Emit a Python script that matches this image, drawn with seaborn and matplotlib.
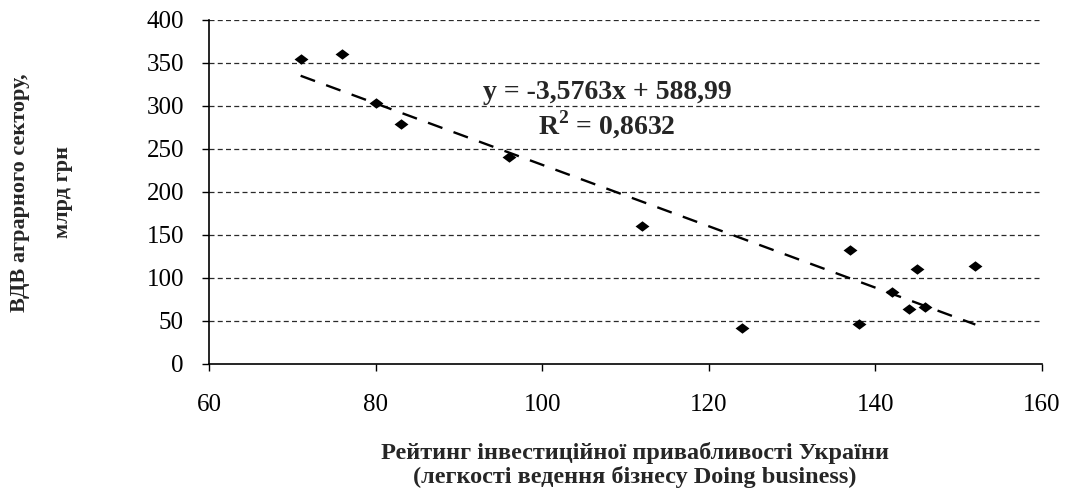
import numpy as np
import pandas as pd
import matplotlib
matplotlib.use("Agg")
import matplotlib.pyplot as plt
import seaborn as sns

# Doing Business rank of Ukraine vs. gross value added of the agrarian sector
rank = [71, 76, 80, 83, 96, 112, 124, 137, 138, 142, 144, 145, 146, 152]
gva = [355, 360, 303, 279, 240, 160, 41, 132, 46, 83, 64, 110, 66, 113]

# linear trend as reported on the chart
slope = -3.5763
intercept = 588.99
r_squared = 0.8632

x_ticks = [60, 80, 100, 120, 140, 160]
y_ticks = [0, 50, 100, 150, 200, 250, 300, 350, 400]

x_label = "Рейтинг інвестиційної привабливості України\n(легкості ведення бізнесу Doing business)"
y_label_1 = "ВДВ аграрного сектору,"
y_label_2 = "млрд грн"

df = pd.DataFrame({"rank": rank, "gva": gva})
trend_x = [min(rank), max(rank)]
trend = pd.DataFrame({"rank": trend_x,
                      "gva": [slope * v + intercept for v in trend_x]})

sns.set_theme(style="white")
plt.rcParams["font.family"] = ["Liberation Serif", "DejaVu Serif"]
plt.rcParams["mathtext.fontset"] = "custom"
plt.rcParams["mathtext.rm"] = "Liberation Serif"
plt.rcParams["mathtext.bf"] = "Liberation Serif:bold"

fig = plt.figure(figsize=(10.68, 4.88), dpi=100)
ax = fig.add_axes([209 / 1068, 1 - 363.5 / 488, 833 / 1068, 343.5 / 488])

# horizontal dashed gridlines
for v in y_ticks[1:]:
    ax.axhline(v, color="#2a2a2a", lw=0.9, dashes=(4.0, 2.6), zorder=0)

diamond = [(-1, 0), (0, 0.75), (1, 0), (0, -0.75), (-1, 0)]
sns.scatterplot(data=df, x="rank", y="gva", marker=diamond, s=100,
                color="black", edgecolor="black", linewidth=0, ax=ax, zorder=3)
sns.lineplot(data=trend, x="rank", y="gva", color="black", lw=1.7,
             dashes=False, ax=ax, zorder=2)
ax.lines[-1].set_dashes((6.5, 5.0))

ax.set_xlim(60, 160)
ax.set_ylim(0, 400)
ax.set_xticks(x_ticks)
ax.set_yticks(y_ticks)
ax.tick_params(axis="both", direction="out", length=5, width=1.0,
               color="black", labelsize=18, labelcolor="black")
ax.tick_params(axis="y", pad=13)
ax.tick_params(axis="x", pad=17)
ax.tick_params(left=True, bottom=True)

for side in ("top", "right"):
    ax.spines[side].set_visible(False)
for side in ("left", "bottom"):
    ax.spines[side].set_color("black")
    ax.spines[side].set_linewidth(1.2)

ax.grid(False)

eq_text = f"y = {slope:.4f}x + {intercept:.2f}".replace(".", ",")
r2_text = r"R$^{\mathbf{2}}$" + f" = {r_squared:.4f}".replace(".", ",")
ax.text(107.8, 316, eq_text, ha="center", va="center",
        fontsize=20, fontweight="bold")
ax.text(107.8, 277.5, r2_text, ha="center", va="center",
        fontsize=20, fontweight="bold")

ax.set_xlabel(x_label, fontsize=17.5, fontweight="bold", linespacing=1.12)
ax.xaxis.set_label_coords(0.511, -0.228)
ax.set_ylabel("")

fig.text(20 / 1068, 0.606, y_label_1, rotation=90, ha="center", va="center",
         fontsize=16, fontweight="bold")
fig.text(63 / 1068, 0.606, y_label_2, rotation=90, ha="center", va="center",
         fontsize=16, fontweight="bold")

fig.savefig("out.png", dpi=100)
